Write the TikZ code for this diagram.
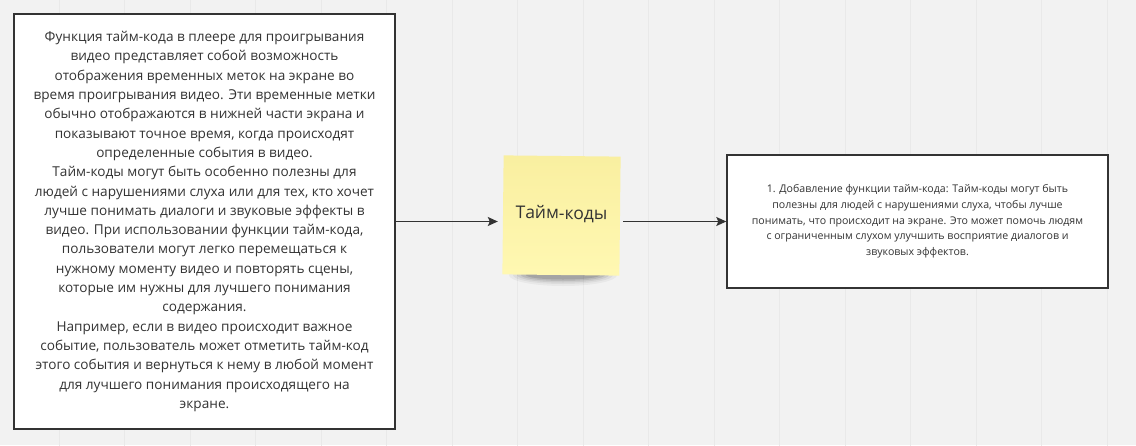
\documentclass[tikz,border=0pt]{standalone}
\usepackage{fontspec}
\setmainfont{Open Sans}
\usetikzlibrary{arrows.meta}
\definecolor{board}{HTML}{F2F2F2}
\definecolor{boardline}{HTML}{E9E9E9}
\definecolor{ink}{HTML}{333333}
\definecolor{notetop}{HTML}{F9EFA0}
\definecolor{notebot}{HTML}{FFF8B2}
\begin{document}
\begin{tikzpicture}
  [x=1pt,y=-1pt,
  card/.style={draw=ink,line width=1.4pt,fill=white,align=center,text=ink,inner sep=0pt},
  big/.style={font=\fontsize{13.6}{19.3}\selectfont},
  small/.style={font=\fontsize{10.6}{15.7}\selectfont},
  sticky/.style={top color=notetop,bottom color=notebot,minimum width=117pt,minimum height=119pt,
    text=ink,font=\fontsize{17.5}{20}\selectfont,rotate=-0.6},
  arr/.style={draw=ink,line width=1.3pt,-{Stealth[length=10pt,width=9pt,inset=2pt]}}]

  \useasboundingbox[fill=board] (0,0) rectangle (1136,445);
  \begin{scope}[shift={(-6.5,-7)}]
    \clip (6.5,7) rectangle (1142.5,452);
    \draw[boardline,line width=0.7pt,step=65.5] (0,0) grid (1180,470);
  \end{scope}

  \foreach \rx/\ry/\o in {54/11/0.04, 50/9/0.05, 46/7.5/0.07, 42/6/0.09, 37/4.5/0.11}
    \fill[black,opacity=\o] (563,275) ellipse ({\rx} and {\ry});

  \node[card,big,minimum width=381pt,minimum height=415pt] (info) at (204.5,221.5)
    {Функция тайм-кода в плеере для проигрывания\\
     видео представляет собой возможность\\
     отображения временных меток на экране во\\
     время проигрывания видео. Эти временные метки\\
     обычно отображаются в нижней части экрана и\\
     показывают точное время, когда происходят\\
     определенные события в видео.\\
     Тайм-коды могут быть особенно полезны для\\
     людей с нарушениями слуха или для тех, кто хочет\\
     лучше понимать диалоги и звуковые эффекты в\\
     видео. При использовании функции тайм-кода,\\
     пользователи могут легко перемещаться к\\
     нужному моменту видео и повторять сцены,\\
     которые им нужны для лучшего понимания\\
     содержания.\\
     Например, если в видео происходит важное\\
     событие, пользователь может отметить тайм-код\\
     этого события и вернуться к нему в любой момент\\
     для лучшего понимания происходящего на\\
     экране.};

  \node[sticky] (note) at (561.5,215.5) {\raisebox{6pt}{Тайм-коды}};

  \node[card,small,minimum width=381pt,minimum height=133pt] (step1) at (917.5,221.5)
    {1. Добавление функции тайм-кода: Тайм-коды могут быть\\
     полезны для людей с нарушениями слуха, чтобы лучше\\
     понимать, что происходит на экране. Это может помочь людям\\
     с ограниченным слухом улучшить восприятие диалогов и\\
     звуковых эффектов.};

  \draw[arr,shorten >=5pt] (info.east) -- (info.east -| note.west);
  \draw[arr,shorten <=3pt] (note.east |- step1.west) -- (step1.west);

\end{tikzpicture}
\end{document}
